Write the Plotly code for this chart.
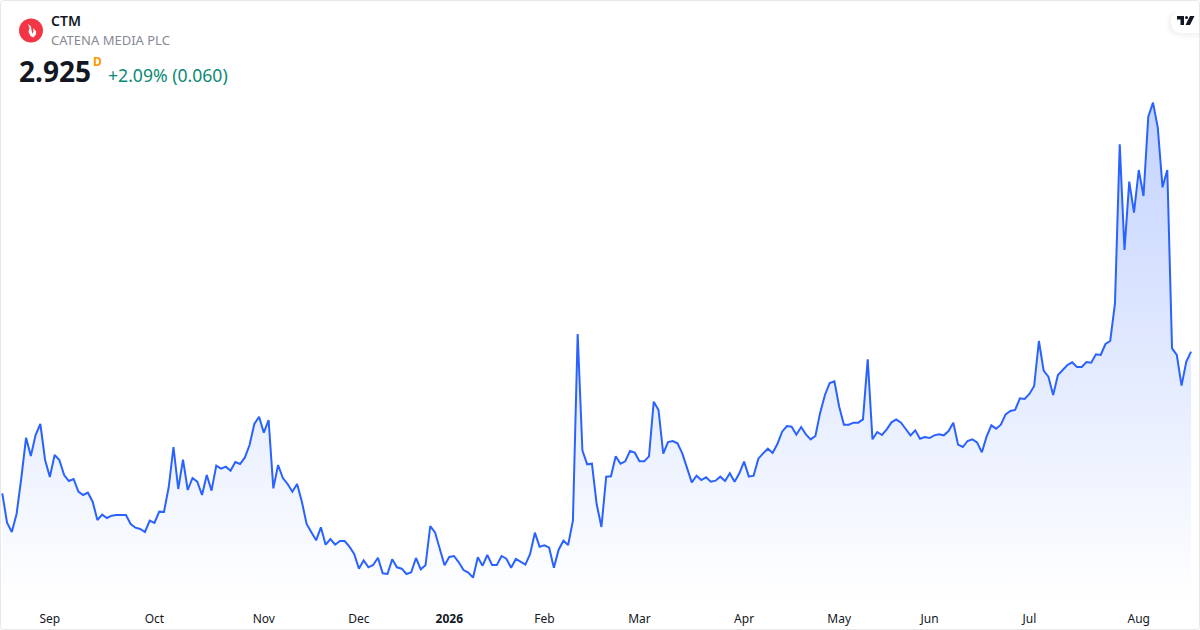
import plotly.graph_objects as go

# closing prices, one per trading day
prices = [
    2.075, 1.899, 1.843, 1.951, 2.167, 2.409, 2.299, 2.425, 2.491, 2.275,
    2.173, 2.305, 2.275, 2.185, 2.149, 2.161, 2.085, 2.065, 2.079, 2.025,
    1.915, 1.947, 1.927, 1.941, 1.945, 1.945, 1.945, 1.891, 1.869, 1.861,
    1.843, 1.911, 1.897, 1.965, 1.963, 2.113, 2.353, 2.101, 2.277, 2.095,
    2.167, 2.145, 2.065, 2.185, 2.091, 2.241, 2.223, 2.235, 2.211, 2.263,
    2.251, 2.289, 2.365, 2.491, 2.535, 2.439, 2.515, 2.105, 2.245, 2.167,
    2.131, 2.085, 2.131, 2.025, 1.891, 1.841, 1.793, 1.871, 1.767, 1.801,
    1.767, 1.789, 1.789, 1.755, 1.711, 1.623, 1.673, 1.631, 1.645, 1.689,
    1.595, 1.591, 1.679, 1.631, 1.623, 1.591, 1.601, 1.687, 1.619, 1.643,
    1.879, 1.841, 1.749, 1.643, 1.693, 1.699, 1.661, 1.615, 1.599, 1.569,
    1.691, 1.641, 1.705, 1.645, 1.645, 1.699, 1.683, 1.629, 1.681, 1.663,
    1.647, 1.711, 1.839, 1.755, 1.763, 1.749, 1.629, 1.737, 1.791, 1.765,
    1.911, 3.031, 2.331, 2.249, 2.253, 2.009, 1.873, 2.175, 2.177, 2.297,
    2.253, 2.267, 2.329, 2.319, 2.267, 2.267, 2.297, 2.625, 2.575, 2.313,
    2.383, 2.389, 2.375, 2.315, 2.231, 2.141, 2.181, 2.155, 2.171, 2.145,
    2.151, 2.175, 2.149, 2.195, 2.145, 2.195, 2.265, 2.175, 2.181, 2.283,
    2.315, 2.343, 2.317, 2.371, 2.445, 2.479, 2.475, 2.427, 2.473, 2.429,
    2.399, 2.419, 2.559, 2.665, 2.737, 2.747, 2.595, 2.487, 2.487, 2.499,
    2.499, 2.519, 2.879, 2.399, 2.443, 2.425, 2.459, 2.501, 2.519, 2.499,
    2.461, 2.423, 2.453, 2.403, 2.413, 2.407, 2.423, 2.429, 2.423, 2.449,
    2.499, 2.367, 2.353, 2.389, 2.399, 2.381, 2.321, 2.415, 2.483, 2.463,
    2.487, 2.549, 2.569, 2.575, 2.645, 2.641, 2.671, 2.719, 2.989, 2.811,
    2.775, 2.665, 2.785, 2.815, 2.845, 2.861, 2.833, 2.833, 2.863, 2.859,
    2.909, 2.905, 2.971, 2.989, 3.215, 4.169, 3.535, 3.945, 3.759, 4.015,
    3.859, 4.335, 4.419, 4.269, 3.911, 4.015, 2.945, 2.905, 2.721, 2.865,
    2.925,
]
days = list(range(len(prices)))

# axis labels and the trading day each one sits on
tick_days = [10, 32, 55, 75, 94, 114, 134, 156, 176, 195, 216, 239]
tick_labels = ["Sep", "Oct", "Nov", "Dec", "<b>2026</b>", "Feb", "Mar", "Apr",
               "May", "Jun", "Jul", "Aug"]

WIDTH = 1200
HEIGHT = 630
FONT = "Noto Sans"
BLUE = "#2962ff"


# page pixels -> paper coordinates
def px(x):
    return x / WIDTH


def py(y):
    return 1 - y / HEIGHT


def path(points):
    return "M " + " L ".join(f"{px(x):.5f},{py(y):.5f}" for x, y in points) + " Z"


fig = go.Figure()
fig.add_trace(go.Scatter(
    x=days,
    y=prices,
    mode="lines",
    line=dict(color=BLUE, width=2),
    fill="tozeroy",
    fillgradient=dict(
        type="vertical",
        start=4.42,
        stop=1.435,
        colorscale=[[0, "rgba(41,98,255,0.28)"], [1, "rgba(41,98,255,0)"]],
    ),
    hoverinfo="skip",
))

fig.update_layout(
    width=WIDTH,
    height=HEIGHT,
    margin=dict(l=0, r=0, t=0, b=0),
    paper_bgcolor="white",
    plot_bgcolor="white",
    showlegend=False,
    font=dict(family=FONT, size=12, color="#131722"),
    xaxis=dict(
        range=[-0.484, 251.88],
        tickmode="array",
        tickvals=tick_days,
        ticktext=tick_labels,
        showgrid=False,
        zeroline=False,
        showline=False,
        ticks="",
        tickangle=0,
        ticklabelstandoff=10,
        tickfont=dict(family=FONT, size=12, color="#131722"),
    ),
    yaxis=dict(
        domain=[30 / HEIGHT, 1],
        range=[1.435, 5.035],
        showgrid=False,
        zeroline=False,
        showticklabels=False,
    ),
)

# header texts
header = [
    (51, 21, "CTM", 14, "#131722", 600),
    (51, 40.5, "CATENA MEDIA PLC", 13, "#868993", 400),
    (19, 71, "2.925", 28, "#131722", 700),
    (93, 62, "D", 12, "#ff9800", 700),
    (108, 74.5, "+2.09% (0.060)", 17.6, "#0a8a74", 400),
]
for x, y, label, size, color, weight in header:
    fig.add_annotation(
        xref="paper", yref="paper", x=px(x), y=py(y),
        text=label, showarrow=False, xanchor="left", yanchor="middle",
        borderpad=0, borderwidth=0,
        font=dict(family=FONT, size=size, color=color, weight=weight),
    )

# logo circle and flame
fig.add_shape(type="circle", xref="paper", yref="paper",
              x0=px(19), x1=px(43), y0=py(42.5), y1=py(18.5),
              fillcolor="#f23645", line_width=0)
fig.add_shape(type="path", xref="paper", yref="paper", fillcolor="white", line_width=0,
              path=path([(28, 24), (31, 26.5), (31.5, 30), (32.5, 34), (33.5, 31), (33, 28),
                         (36, 31), (36.2, 34), (33.5, 37.5), (30.5, 36), (28.5, 32), (29.5, 28)]))

# badge in the top right corner, soft shadow first
for i in range(6, 0, -1):
    fig.add_shape(type="path", xref="paper", yref="paper",
                  fillcolor="rgba(0,0,0,0.009)", line_width=0,
                  path=f"M {px(1199):.5f},{py(10):.5f} L {px(1183):.5f},{py(10):.5f} "
                       f"Q {px(1171 - i):.5f},{py(10):.5f} {px(1171 - i):.5f},{py(21.5 + i / 2):.5f} "
                       f"Q {px(1171 - i):.5f},{py(33 + i):.5f} {px(1183):.5f},{py(33 + i):.5f} "
                       f"L {px(1199):.5f},{py(33 + i):.5f} Z")
fig.add_shape(type="path", xref="paper", yref="paper", fillcolor="white", line_width=0,
              path=f"M {px(1199):.5f},{py(10):.5f} L {px(1183):.5f},{py(10):.5f} "
                   f"Q {px(1171):.5f},{py(10):.5f} {px(1171):.5f},{py(21.5):.5f} "
                   f"Q {px(1171):.5f},{py(33):.5f} {px(1183):.5f},{py(33):.5f} "
                   f"L {px(1199):.5f},{py(33):.5f} Z")
fig.add_shape(type="path", xref="paper", yref="paper", fillcolor="#131722", line_width=0,
              path=path([(1177, 16), (1184, 16), (1184, 25), (1180.5, 25), (1180.5, 19.5), (1177, 19.5)]))
fig.add_shape(type="circle", xref="paper", yref="paper", fillcolor="#131722", line_width=0,
              x0=px(1185), x1=px(1188), y0=py(19), y1=py(16))
fig.add_shape(type="path", xref="paper", yref="paper", fillcolor="#131722", line_width=0,
              path=path([(1190, 16), (1194.5, 16), (1190, 25), (1185.5, 25)]))

# widget border with rounded corners
left, right, top, bottom = 0.5, 1199.5, 0.5, 629.5
r = 3
fig.add_shape(type="path", xref="paper", yref="paper", line=dict(color="#e8e8e8", width=1),
              fillcolor="rgba(0,0,0,0)",
              path=f"M {px(left + r):.5f},{py(top):.5f} L {px(right - r):.5f},{py(top):.5f} "
                   f"Q {px(right):.5f},{py(top):.5f} {px(right):.5f},{py(top + r):.5f} "
                   f"L {px(right):.5f},{py(bottom - r):.5f} "
                   f"Q {px(right):.5f},{py(bottom):.5f} {px(right - r):.5f},{py(bottom):.5f} "
                   f"L {px(left + r):.5f},{py(bottom):.5f} "
                   f"Q {px(left):.5f},{py(bottom):.5f} {px(left):.5f},{py(bottom - r):.5f} "
                   f"L {px(left):.5f},{py(top + r):.5f} "
                   f"Q {px(left):.5f},{py(top):.5f} {px(left + r):.5f},{py(top):.5f} Z")

fig.write_html("out.html", config=dict(displayModeBar=False),
               post_script="document.body.style.margin='0';")
